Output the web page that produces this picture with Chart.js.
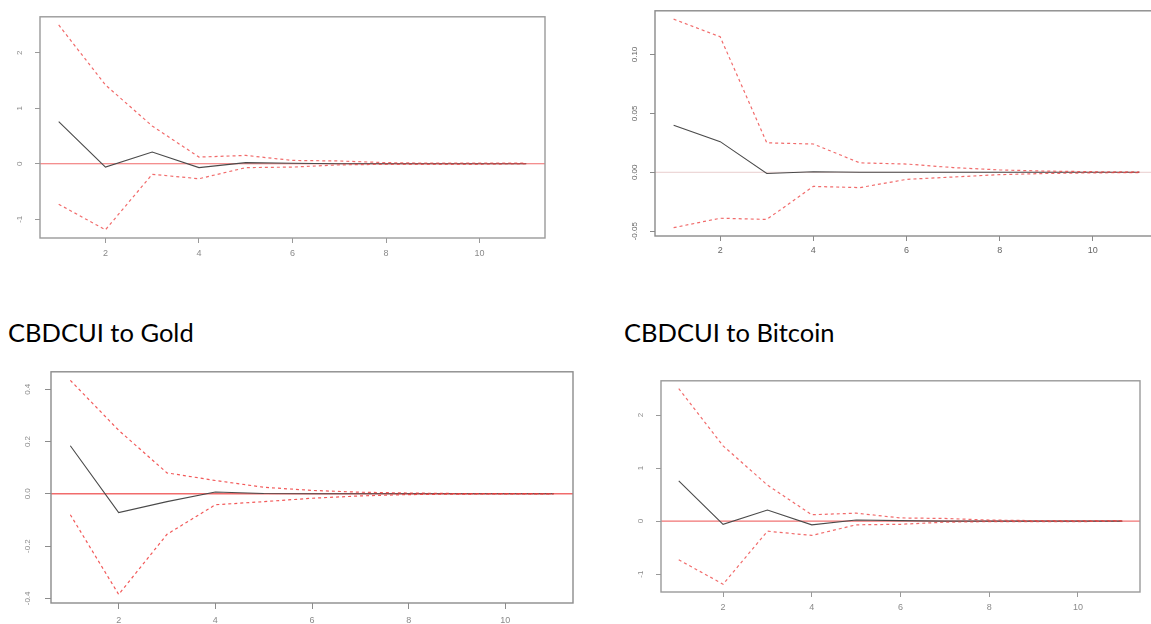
<!DOCTYPE html>
<html>
<head>
<meta charset="utf-8">
<script src="https://cdn.jsdelivr.net/npm/chart.js@4.4.1/dist/chart.umd.min.js"></script>
<style>
html,body{margin:0;padding:0;background:#fff;width:1151px;height:624px;overflow:hidden;}
#wrap{position:relative;width:1151px;height:624px;overflow:hidden;background:#fff;}
canvas{position:absolute;}
.title{position:absolute;font-family:Lato,"Open Sans",sans-serif;font-size:25.5px;line-height:26px;color:#000;white-space:nowrap;}
</style>
</head>
<body>
<div id="wrap">
  <div class="title" id="t3" style="left:8px;top:319px;">CBDCUI to Gold</div>
  <div class="title" id="t4" style="left:624px;top:319px;">CBDCUI to Bitcoin</div>
  <canvas id="c1"></canvas>
  <canvas id="c2"></canvas>
  <canvas id="c3"></canvas>
  <canvas id="c4"></canvas>
</div>
<script>
// ---------- data ----------
const horizons = [1, 2, 3, 4, 5, 6, 7, 8, 9, 10, 11];
const xTickValues = [2, 4, 6, 8, 10];

// top-left panel (same response as "CBDCUI to Bitcoin")
const p1Response = [0.76, -0.06, 0.21, -0.07, 0.02, 0.01, 0.00, 0.00, 0.00, 0.00, 0.00];
const p1Upper    = [2.50, 1.42, 0.68, 0.12, 0.15, 0.06, 0.05, 0.02, 0.01, 0.01, 0.01];
const p1Lower    = [-0.73, -1.19, -0.19, -0.27, -0.07, -0.06, -0.02, -0.01, -0.01, -0.01, 0.00];
const p1YTicks   = [-1, 0, 1, 2];

// top-right panel
const p2Response = [0.040, 0.026, -0.001, 0.0005, 0.000, 0.000, 0.000, 0.000, 0.000, 0.000, 0.000];
const p2Upper    = [0.130, 0.115, 0.025, 0.024, 0.008, 0.007, 0.004, 0.002, 0.001, 0.0005, 0.0003];
const p2Lower    = [-0.047, -0.039, -0.040, -0.012, -0.013, -0.006, -0.004, -0.002, -0.001, -0.0005, -0.0002];
const p2YTicks   = [-0.05, 0.00, 0.05, 0.10];

// CBDCUI to Gold
const goldResponse = [0.184, -0.072, -0.030, 0.007, 0.001, 0.000, 0.000, 0.000, 0.000, 0.000, 0.000];
const goldUpper    = [0.434, 0.243, 0.080, 0.051, 0.025, 0.013, 0.006, 0.003, 0.001, 0.0005, 0.0002];
const goldLower    = [-0.080, -0.385, -0.155, -0.042, -0.030, -0.017, -0.008, -0.003, -0.001, -0.0005, -0.0002];
const goldYTicks   = [-0.4, -0.2, 0.0, 0.2, 0.4];

// CBDCUI to Bitcoin
const btcResponse = [0.76, -0.06, 0.21, -0.07, 0.02, 0.01, 0.00, 0.00, 0.00, 0.00, 0.00];
const btcUpper    = [2.50, 1.42, 0.68, 0.12, 0.15, 0.06, 0.05, 0.02, 0.01, 0.01, 0.01];
const btcLower    = [-0.73, -1.19, -0.19, -0.27, -0.07, -0.06, -0.02, -0.01, -0.01, -0.01, 0.00];
const btcYTicks   = [-1, 0, 1, 2];

// ---------- helpers ----------
function rExtend(vals) {           // R-style 4% axis extension
  const lo = Math.min(...vals), hi = Math.max(...vals);
  const pad = (hi - lo) * 0.04;
  return [lo - pad, hi + pad];
}
const toXY = arr => horizons.map((h, i) => ({x: h, y: arr[i]}));

const framePlugin = {
  id: 'frame',
  beforeDatasetsDraw(chart, args, o) {
    const {ctx, chartArea: a} = chart;
    const y0 = chart.scales.y.getPixelForValue(0);
    ctx.save();
    ctx.strokeStyle = o.zeroColor;
    ctx.lineWidth = o.zeroWidth;
    ctx.beginPath();
    ctx.moveTo(a.left, y0);
    ctx.lineTo(a.right, y0);
    ctx.stroke();
    ctx.restore();
  },
  afterDraw(chart, args, o) {
    const {ctx, chartArea: a} = chart;
    ctx.save();
    ctx.strokeStyle = o.boxColor;
    ctx.lineWidth = o.boxWidth;
    ctx.strokeRect(a.left, a.top, a.right - a.left, a.bottom - a.top);
    ctx.restore();
  }
};

function makePanel(id, cfg) {
  const cv = document.getElementById(id);
  const W = cfg.yAxisW + (cfg.box.r - cfg.box.l) + cfg.padRight;
  const H = cfg.padTop + (cfg.box.b - cfg.box.t) + cfg.xAxisH;
  cv.width = W; cv.height = H;
  cv.style.left = (cfg.box.l - cfg.yAxisW) + 'px';
  cv.style.top = (cfg.box.t - cfg.padTop) + 'px';
  cv.style.width = W + 'px'; cv.style.height = H + 'px';

  const [xMin, xMax] = rExtend(horizons);
  const [yMin, yMax] = rExtend([...cfg.upper, ...cfg.lower, ...cfg.resp]);
  const band = {borderColor: cfg.bandColor, borderWidth: 1.2, borderDash: [3, 3], pointRadius: 0, tension: 0, fill: false};

  new Chart(cv, {
    type: 'line',
    data: {
      datasets: [
        Object.assign({data: toXY(cfg.upper)}, band),
        Object.assign({data: toXY(cfg.lower)}, band),
        {data: toXY(cfg.resp), borderColor: '#4a4a4a', borderWidth: 1.1, pointRadius: 0, tension: 0, fill: false}
      ]
    },
    options: {
      responsive: false,
      animation: false,
      devicePixelRatio: 1,
      layout: {padding: {top: cfg.padTop, right: cfg.padRight, left: 0, bottom: 0}},
      plugins: {
        legend: {display: false},
        tooltip: {enabled: false},
        frame: {zeroColor: cfg.zeroColor, zeroWidth: cfg.zeroWidth, boxColor: cfg.boxColor, boxWidth: 1.4}
      },
      scales: {
        x: {
          type: 'linear', min: xMin, max: xMax,
          afterBuildTicks: s => { s.ticks = xTickValues.map(v => ({value: v})); },
          afterFit: s => { s.height = cfg.xAxisH; },
          border: {display: false},
          grid: {display: true, drawOnChartArea: false, drawTicks: true, tickLength: cfg.tickLen, color: cfg.boxColor, lineWidth: 1},
          ticks: {autoSkip: false, maxRotation: 0, minRotation: 0, padding: cfg.xPad, color: cfg.labelColor,
                  font: {family: 'Liberation Sans', size: cfg.xFont}, callback: v => String(v)}
        },
        y: {
          type: 'linear', min: yMin, max: yMax,
          afterBuildTicks: s => { s.ticks = cfg.yTicks.map(v => ({value: v})); },
          afterFit: s => { s.width = cfg.yAxisW; },
          border: {display: false},
          grid: {display: true, drawOnChartArea: false, drawTicks: true, tickLength: cfg.tickLen, color: cfg.boxColor, lineWidth: 1},
          ticks: {autoSkip: false, minRotation: 90, maxRotation: 90, crossAlign: 'center', padding: cfg.yPad,
                  color: cfg.labelColor, font: {family: 'Liberation Sans', size: cfg.yFont},
                  callback: v => v.toFixed(cfg.dec)}
        }
      }
    },
    plugins: [framePlugin]
  });
}

makePanel('c1', {
  box: {l: 40, t: 10, r: 545, b: 238}, yAxisW: 40, padTop: 10, padRight: 6, xAxisH: 24,
  upper: p1Upper, lower: p1Lower, resp: p1Response, yTicks: p1YTicks, dec: 0,
  bandColor: 'rgba(238,70,70,0.8)', zeroColor: 'rgba(238,90,90,0.9)', zeroWidth: 1.1,
  boxColor: '#9a9a9a', labelColor: '#8a8a8a', tickLen: 5, xPad: 5, yPad: 12, xFont: 9, yFont: 8
});
makePanel('c2', {
  box: {l: 655, t: 9, r: 1158, b: 236}, yAxisW: 45, padTop: 9, padRight: 2, xAxisH: 22,
  upper: p2Upper, lower: p2Lower, resp: p2Response, yTicks: p2YTicks, dec: 2,
  bandColor: 'rgba(238,70,70,0.8)', zeroColor: 'rgba(230,200,200,0.9)', zeroWidth: 1,
  boxColor: '#8a8a8a', labelColor: '#666', tickLen: 5, xPad: 4, yPad: 6, xFont: 9, yFont: 8
});
makePanel('c3', {
  box: {l: 51, t: 367, r: 573, b: 603}, yAxisW: 50, padTop: 10, padRight: 4, xAxisH: 21,
  upper: goldUpper, lower: goldLower, resp: goldResponse, yTicks: goldYTicks, dec: 1,
  bandColor: 'rgba(240,60,60,0.85)', zeroColor: 'rgba(240,100,100,0.95)', zeroWidth: 1.6,
  boxColor: '#8c8c8c', labelColor: '#8a8a8a', tickLen: 6, xPad: 6, yPad: 10, xFont: 9, yFont: 8
});
makePanel('c4', {
  box: {l: 661, t: 374, r: 1140, b: 592}, yAxisW: 50, padTop: 10, padRight: 6, xAxisH: 22,
  upper: btcUpper, lower: btcLower, resp: btcResponse, yTicks: btcYTicks, dec: 0,
  bandColor: 'rgba(238,70,70,0.8)', zeroColor: 'rgba(238,100,100,0.9)', zeroWidth: 1.1,
  boxColor: '#9a9a9a', labelColor: '#8a8a8a', tickLen: 5, xPad: 5, yPad: 12, xFont: 9, yFont: 8
});
</script>
</body>
</html>
